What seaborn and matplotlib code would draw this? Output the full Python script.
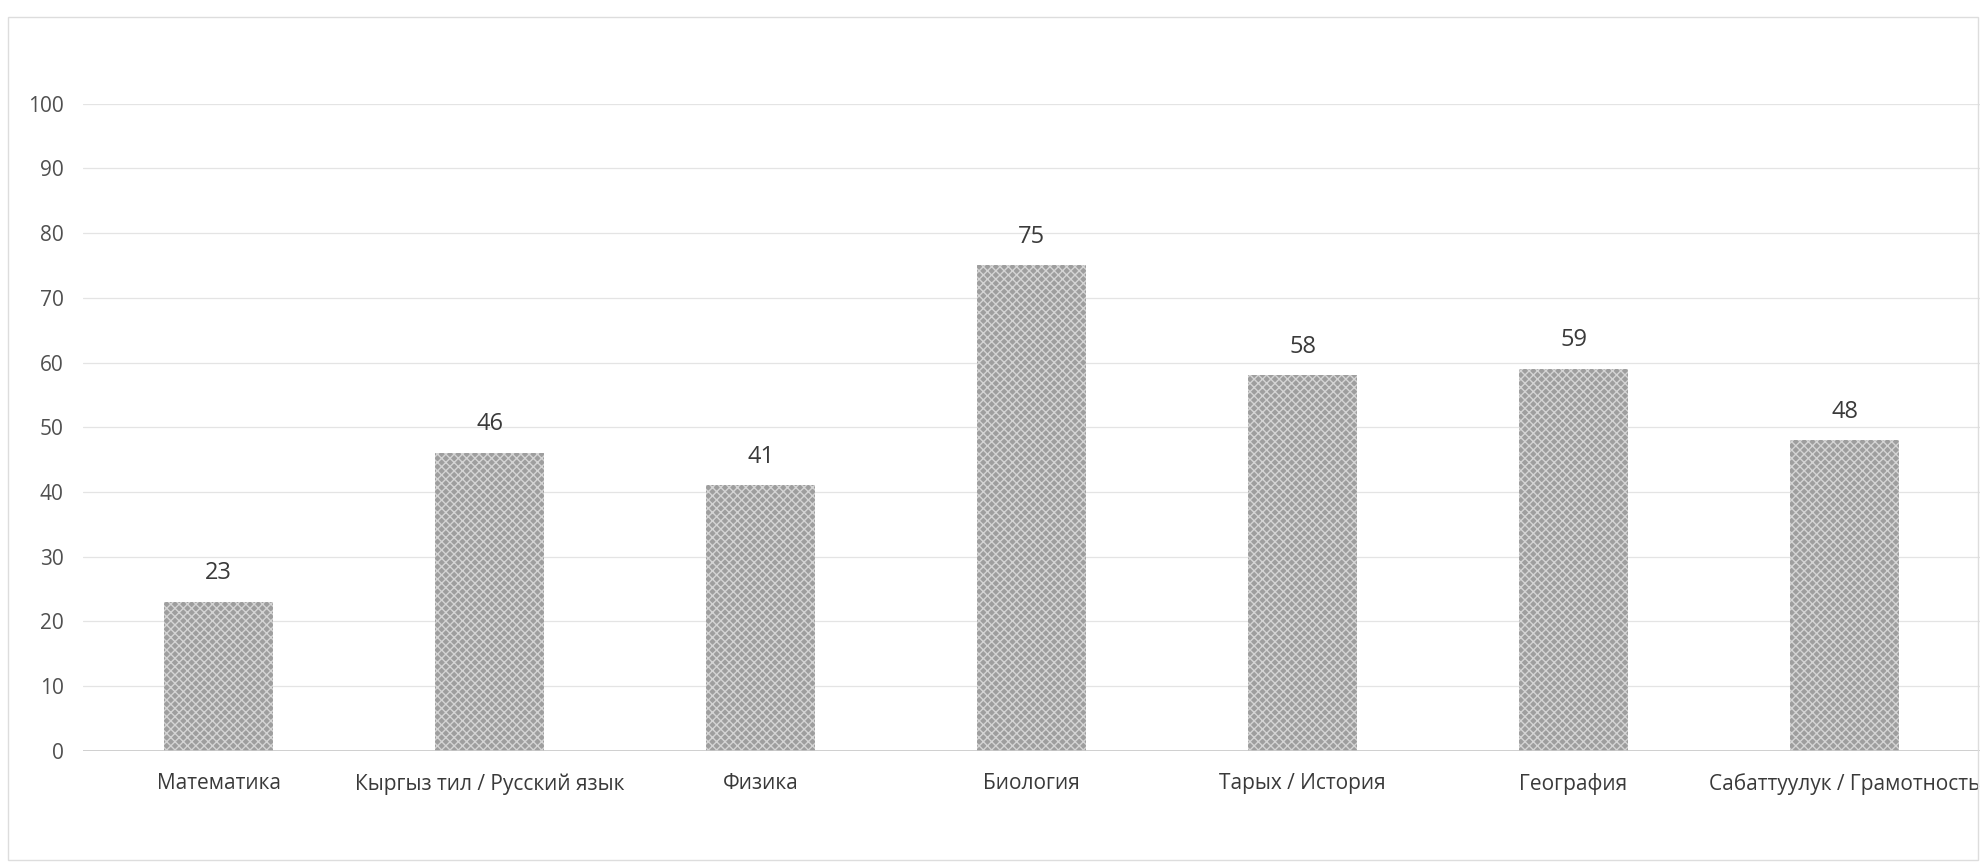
import matplotlib
matplotlib.use('Agg')
import matplotlib.pyplot as plt
import seaborn as sns
import pandas as pd

# data
subjects = ['Математика', 'Кыргыз тил / Русский язык', 'Физика', 'Биология',
            'Тарых / История', 'География', 'Сабаттуулук / Грамотность']
scores = [23, 46, 41, 75, 58, 59, 48]
yticks = [0, 10, 20, 30, 40, 50, 60, 70, 80, 90, 100]

df = pd.DataFrame({'subject': subjects, 'score': scores})

sns.set_style('white')
plt.rcParams['font.family'] = ['Open Sans', 'DejaVu Sans']
plt.rcParams['hatch.linewidth'] = 1.0

fig = plt.figure(figsize=(19.8, 8.64), dpi=100)
ax = fig.add_axes([0.042, 0.131, 0.958, 0.749])

sns.barplot(data=df, x='subject', y='score', color='#9e9e9e', width=0.4,
            saturation=1, ax=ax, zorder=3)
for p in ax.patches:
    p.set_hatch('xxxx')
    p.set_edgecolor('#d4d4d4')
    p.set_linewidth(0)

ax.bar_label(ax.containers[0], labels=[str(v) for v in scores], padding=12,
             fontsize=17, color='#3a3a3a')

ax.set_ylim(0, 100)
ax.set_xlim(-0.5, len(subjects) - 0.5)
ax.set_yticks(yticks)
ax.yaxis.grid(True, color='#e4e4e4', linewidth=0.9, zorder=0)
ax.axhline(0, color='#c8c8c8', linewidth=1.2, zorder=4)
for s in ax.spines.values():
    s.set_visible(False)
ax.tick_params(axis='y', length=0, pad=14, labelsize=15, labelcolor='#505050')
ax.tick_params(axis='x', length=0, pad=16, labelsize=15, labelcolor='#3a3a3a')
ax.set_xlabel('')
ax.set_ylabel('')

# faint chart border like the scanned frame
fig.patches.append(plt.Rectangle((0.004, 0.005), 0.995, 0.975, transform=fig.transFigure,
                                 fill=False, edgecolor='#dddddd', linewidth=1))

fig.savefig('out.png', dpi=100)
